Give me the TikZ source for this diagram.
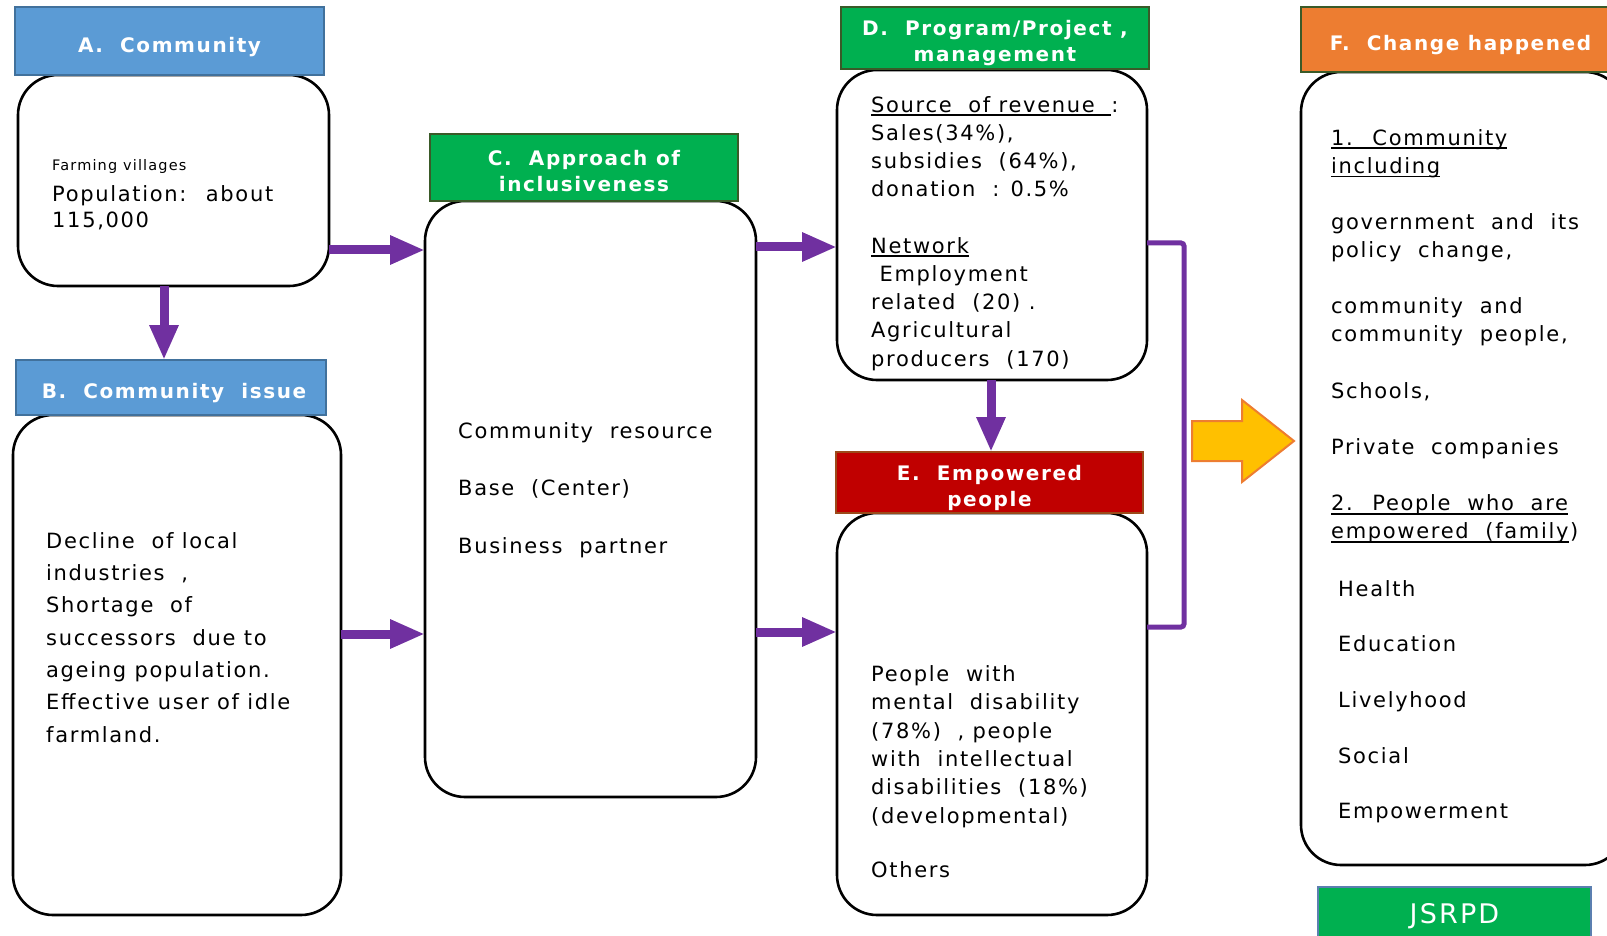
\documentclass[tikz,border=0pt]{standalone}
\usepackage{fontspec}
\setmainfont{DejaVu Sans}[LetterSpace=8]
\usetikzlibrary{arrows.meta}
\definecolor{hdrblue}{HTML}{5B9BD5}
\definecolor{hdrblueline}{HTML}{41719C}
\definecolor{hdrgreen}{HTML}{00B050}
\definecolor{hdrgreenline}{HTML}{3A5A28}
\definecolor{hdrred}{HTML}{C00000}
\definecolor{hdrredline}{HTML}{9C4A1A}
\definecolor{hdrorange}{HTML}{ED7D31}
\definecolor{flowpurple}{HTML}{7030A0}
\definecolor{bigyellow}{HTML}{FFC000}
\definecolor{tagline}{HTML}{5B7FB0}
% underline drawn as a thick bar under the text
\newlength\ulwd
\newcommand\ulx[1]{\settowidth\ulwd{#1}\rlap{\rule[-4pt]{\ulwd}{1.8pt}}#1}
\begin{document}
\begin{tikzpicture}[x=1pt,y=-1pt,
  box/.style={draw=black, line width=2.6pt, rounded corners=40pt, fill=white, inner sep=0pt, outer sep=0pt},
  hdr/.style={line width=2pt, inner sep=0pt, outer sep=0pt},
  hdrtxt/.style={inner sep=0pt, text=white, font=\bfseries\fontsize{20}{26}\selectfont, align=center},
  body/.style={anchor=north west, inner sep=0pt, align=left, font=\fontsize{21}{28}\selectfont},
  flow/.style={draw=flowpurple, line width=9pt, -{Triangle[length=35pt 0,width=27pt 0]}},
]
\useasboundingbox (0,0) rectangle (1607,936);

% ---- A. Community
\node[box, minimum width=311pt, minimum height=211pt] (A) at (173.5,180.5) {};
\node[hdr, fill=hdrblue, draw=hdrblueline, minimum width=309pt, minimum height=68pt] (Ahead) at (169.5,41) {};
\node[hdrtxt, yshift=-6pt] (AheadT) at (Ahead) {A.~ Community};
\node[anchor=base west, inner sep=0pt, font=\fontsize{14.5}{18}\selectfont] (Afarm) at (52,171) {Farming villages};
\node[body, font=\fontsize{21}{26}\selectfont] (Atext) at (52,185) {\rule{0pt}{16pt}Population:~ about\\115,000};

% ---- B. Community issue
\node[box, minimum width=328pt, minimum height=500pt] (B) at (177,665) {};
\node[hdr, fill=hdrblue, draw=hdrblueline, minimum width=310pt, minimum height=55pt] (Bhead) at (171,387.5) {};
\node[hdrtxt, yshift=-6pt, xshift=3pt] (BheadT) at (Bhead) {B.~ Community~ issue};
\node[body, font=\fontsize{21}{32.3}\selectfont] (Btext) at (46,532) {\rule{0pt}{16pt}Decline~ of local\\industries~ ,\\Shortage~ of\\successors~ due to\\ageing population.\\Effective user of idle\\farmland.};

% ---- C. Approach of inclusiveness
\node[box, minimum width=331pt, minimum height=596pt] (C) at (590.5,499) {};
\node[hdr, fill=hdrgreen, draw=hdrgreenline, minimum width=308pt, minimum height=67pt] (Chead) at (584,167.5) {};
\node[hdrtxt, yshift=-4pt] (CheadT) at (Chead) {C.~ Approach of\\inclusiveness};
\node[body, font=\fontsize{21}{28.75}\selectfont] (Ctext) at (458,422) {\rule{0pt}{16pt}Community~ resource\\[28.75pt]Base~ (Center)\\[28.75pt]Business~ partner};

% ---- D. Program/Project management
\node[box, minimum width=310pt, minimum height=310pt] (D) at (992,225) {};
\node[hdr, fill=hdrgreen, draw=hdrgreenline, minimum width=308pt, minimum height=62pt] (Dhead) at (995,38) {};
\node[hdrtxt, yshift=-5pt] (DheadT) at (Dhead) {D.~ Program/Project ,\\management};
\node[body, font=\fontsize{21}{28.2}\selectfont] (Dtext) at (871,96) {\rule{0pt}{16pt}\ulx{Source~ of revenue~ }:\\Sales(34\%),\\subsidies~ (64\%),\\donation~ : 0.5\%\\[28.2pt]\ulx{Network}\\\ Employment\\related~ (20) .\\Agricultural\\producers~ (170)};

% ---- E. Empowered people
\node[box, minimum width=310pt, minimum height=402pt] (E) at (992,714) {};
\node[hdr, fill=hdrred, draw=hdrredline, minimum width=307pt, minimum height=61pt] (Ehead) at (989.5,482.5) {};
\node[hdrtxt, yshift=-5pt] (EheadT) at (Ehead) {E.~ Empowered\\people};
\node[body, font=\fontsize{21}{28.4}\selectfont] (Etext) at (871,665) {\rule{0pt}{16pt}People~ with\\mental~ disability\\(78\%)~ , people\\with~ intellectual\\disabilities~ (18\%)\\(developmental)\\[26pt]Others};

% ---- F. Change happened
\node[box, minimum width=324pt, minimum height=793pt] (F) at (1463,468.5) {};
\node[hdr, fill=hdrorange, draw=hdrgreenline, minimum width=319pt, minimum height=65pt] (Fhead) at (1460.5,39.5) {};
\node[hdrtxt, yshift=-6pt] (FheadT) at (Fhead) {F.~ Change happened};
\node[body, font=\fontsize{21}{28.1}\selectfont] (Ftext) at (1331,129) {\rule{0pt}{16pt}\ulx{1.~ Community}\\\ulx{including}\\[28.1pt]government~ and~ its\\policy~ change,\\[28.1pt]community~ and\\community~ people,\\[28.1pt]Schools,\\[28.1pt]Private~ companies\\[28.1pt]\ulx{2.~ People~ who~ are}\\\ulx{empowered~ (family})};
\node[body, font=\fontsize{21}{28.1}\selectfont] (Flist) at (1338,580) {\rule{0pt}{16pt}Health\\[27pt]Education\\[28.5pt]Livelyhood\\[27pt]Social\\[27pt]Empowerment};

% ---- JSRPD tag
\node[line width=2pt, inner sep=0pt, fill=hdrgreen, draw=tagline, text=white,
  font=\fontsize{27}{30}\selectfont, minimum width=273pt, minimum height=58pt] (tag) at (1454.5,916) {JSRPD};

% ---- connectors
\coordinate (acY) at (0,250);
\coordinate (bcY) at (0,634);
\coordinate (cdY) at (0,247);
\coordinate (ceY) at (0,632);
\coordinate (abX) at (164,0);
\coordinate (deX) at (991,0);
\draw[flow] (A.east |- acY) -- (C.west |- acY);
\draw[flow] (B.east |- bcY) -- (C.west |- bcY);
\draw[flow] (C.east |- cdY) -- (D.west |- cdY);
\draw[flow] (C.east |- ceY) -- (E.west |- ceY);
\draw[flow] (A.south -| abX) -- (Bhead.north -| abX);
\draw[flow] (D.south -| deX) -- (Ehead.north -| deX);

% bracket joining D and E
\coordinate (brTop) at (1184,243);
\coordinate (brBot) at (1184,627);
\draw[flowpurple, line width=5pt, rounded corners=3pt] (D.east |- brTop) -- (brTop) -- (brBot) -- (E.east |- brBot);

% big arrow towards F
\filldraw[fill=bigyellow, draw=hdrorange, line width=2pt, line join=miter]
  (1192,421) -- (1242,421) -- (1242,400) -- (1294,441) -- (1242,482) -- (1242,461) -- (1192,461) -- cycle;
\end{tikzpicture}
\end{document}
